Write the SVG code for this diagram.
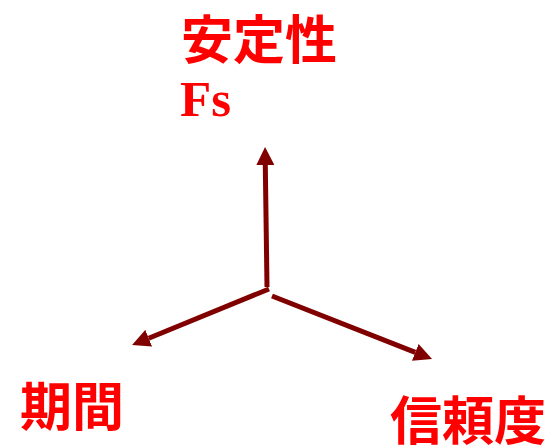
<svg xmlns="http://www.w3.org/2000/svg" width="549" height="448" viewBox="0 0 549 448">
<style>
.lbl{font-family:"Noto Sans CJK JP","Noto Sans CJK SC",sans-serif;font-weight:bold;font-size:52px;fill:#FF0000}
.fs{font-family:"Liberation Serif","Times New Roman",serif;font-weight:bold;font-size:51px;fill:#FF0000}
.ax{stroke:#800000;stroke-width:5;fill:none;marker-end:url(#ah)}
</style>
<defs>
<marker id="ah" markerUnits="userSpaceOnUse" viewBox="0 0 18 18" refX="0" refY="9" markerWidth="18" markerHeight="18" orient="auto">
<path d="M0,0 L18,9 L0,18 z" fill="#800000"/>
</marker>
</defs>
<rect width="549" height="448" fill="#FFFFFF"/>
<g id="connectors">
<line class="ax" x1="267" y1="287" x2="265.3" y2="165"/>
<line class="ax" x1="269" y1="289" x2="148.7" y2="338.2"/>
<line class="ax" x1="272" y1="296" x2="415.3" y2="352.4"/>
</g>
<g id="stability"><text class="lbl" x="181" y="59">安定性</text><text class="fs" x="180" y="116">Fs</text></g>
<g id="period"><text class="lbl" x="20" y="426">期間</text></g>
<g id="reliability"><text class="lbl" x="390" y="440">信頼度</text></g>
</svg>
